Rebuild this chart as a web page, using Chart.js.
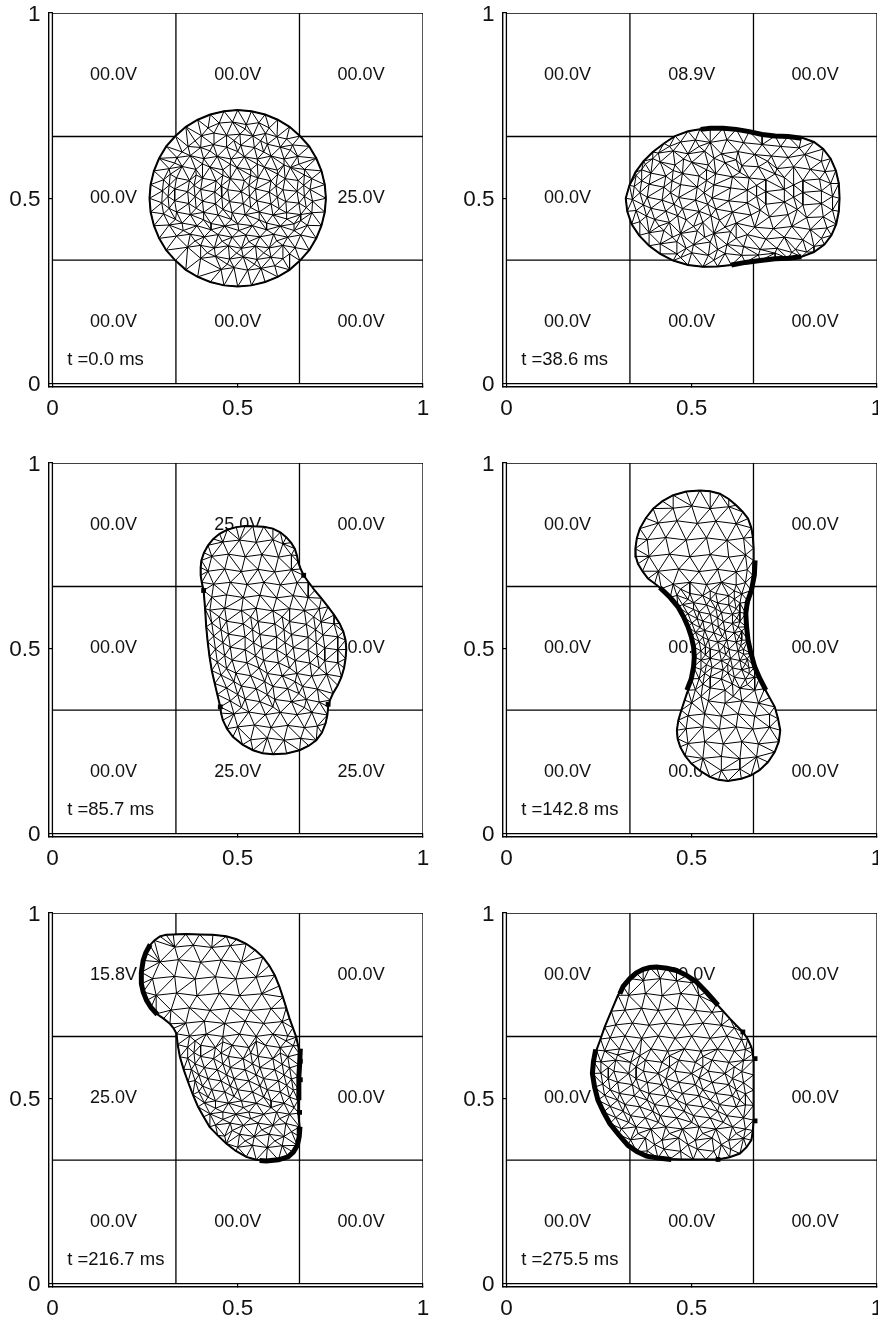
<!DOCTYPE html>
<html>
<head>
    <title>Droplet on electrode grid</title>
    <style>
        html, body { margin: 0; padding: 0; background: #fff; overflow: hidden; }
        body { width: 878px; height: 1321px; position: relative; }
        canvas { position: absolute; }
    </style>
    <script src="https://cdn.jsdelivr.net/npm/chart.js"></script>
</head>
<body>
<script>
// values, mesh nodes are estimates and not exact
const tickValues = [0, 0.5, 1];
const gridCuts = [0.3333, 0.6667];
const cellX = [0.165, 0.5, 0.833];
const cellY = [0.833, 0.5, 0.165];
const timeLabels = ['t =0.0 ms', 't =38.6 ms', 't =85.7 ms', 't =142.8 ms', 't =216.7 ms', 't =275.5 ms'];

const volts1 = ['00.0V','00.0V','00.0V','00.0V','00.0V','25.0V','00.0V','00.0V','00.0V'];
const volts2 = ['00.0V','08.9V','00.0V','00.0V','00.0V','00.0V','00.0V','00.0V','00.0V'];
const volts3 = ['00.0V','25.0V','00.0V','00.0V','00.0V','00.0V','00.0V','25.0V','25.0V'];
const volts4 = ['00.0V','00.0V','00.0V','00.0V','00.0V','00.0V','00.0V','00.0V','00.0V'];
const volts5 = ['15.8V','00.0V','00.0V','25.0V','00.0V','00.0V','00.0V','00.0V','00.0V'];
const volts6 = ['00.0V','00.0V','00.0V','00.0V','00.0V','00.0V','00.0V','00.0V','00.0V'];

const outline1 = [[.738,.5],[.735,.537],[.726,.574],[.712,.608],[.693,.64],[.668,.668],[.64,.693],[.608,.712],[.574,.726],[.537,.735],[.5,.738],[.463,.735],[.426,.726],[.392,.712],[.36,.693],[.332,.668],[.307,.64],[.288,.608],[.274,.574],[.265,.537],[.262,.5],[.265,.463],[.274,.426],[.288,.392],[.307,.36],[.332,.332],[.36,.307],[.392,.288],[.426,.274],[.463,.265],[.5,.262],[.537,.265],[.574,.274],[.608,.288],[.64,.307],[.668,.332],[.693,.36],[.712,.392],[.726,.426],[.735,.463]];
const outline2 = [[.899,.5],[.897,.54],[.889,.575],[.875,.607],[.855,.633],[.83,.652],[.796,.664],[.76,.667],[.725,.668],[.69,.672],[.655,.68],[.62,.686],[.585,.689],[.55,.689],[.522,.686],[.49,.681],[.455,.668],[.425,.648],[.395,.625],[.37,.6],[.348,.57],[.332,.535],[.322,.5],[.326,.465],[.338,.43],[.358,.4],[.385,.372],[.415,.35],[.45,.332],[.49,.32],[.53,.315],[.57,.316],[.607,.32],[.645,.327],[.685,.332],[.725,.337],[.76,.338],[.796,.342],[.83,.355],[.858,.375],[.877,.4],[.89,.43],[.897,.465]];
const outline3 = [[.541,.829],[.57,.828],[.595,.823],[.615,.813],[.631,.8],[.644,.785],[.654,.769],[.66,.75],[.663,.733],[.67,.714],[.678,.697],[.692,.677],[.708,.656],[.726,.635],[.744,.612],[.76,.59],[.775,.567],[.785,.545],[.791,.522],[.793,.497],[.791,.472],[.787,.447],[.78,.423],[.77,.4],[.757,.378],[.749,.36],[.744,.342],[.742,.32],[.737,.297],[.727,.272],[.712,.252],[.692,.237],[.667,.225],[.632,.216],[.595,.214],[.567,.217],[.541,.225],[.513,.24],[.487,.261],[.471,.283],[.46,.306],[.455,.325],[.453,.342],[.445,.375],[.438,.405],[.43,.44],[.424,.477],[.419,.517],[.415,.558],[.412,.607],[.408,.656],[.403,.678],[.4,.697],[.4,.718],[.402,.737],[.409,.758],[.42,.778],[.434,.795],[.451,.809],[.472,.82],[.496,.827],[.52,.83]];
const outline4 = [[.522,.926],[.55,.924],[.576,.917],[.6,.903],[.62,.886],[.638,.868],[.652,.85],[.661,.825],[.665,.8],[.667,.77],[.667,.737],[.665,.697],[.661,.656],[.654,.625],[.646,.594],[.648,.558],[.652,.522],[.66,.486],[.67,.45],[.683,.42],[.697,.391],[.71,.367],[.724,.342],[.733,.31],[.739,.279],[.735,.248],[.724,.22],[.706,.193],[.683,.171],[.66,.157],[.634,.148],[.598,.142],[.572,.145],[.549,.153],[.523,.169],[.499,.189],[.482,.21],[.469,.234],[.462,.256],[.46,.279],[.464,.306],[.472,.333],[.481,.36],[.49,.387],[.499,.418],[.505,.45],[.507,.477],[.505,.504],[.499,.531],[.49,.558],[.478,.585],[.463,.612],[.442,.637],[.418,.661],[.4,.675],[.382,.688],[.367,.708],[.355,.728],[.349,.748],[.348,.769],[.352,.797],[.36,.823],[.376,.851],[.396,.877],[.421,.897],[.45,.913],[.485,.923]];
const outline5 = [[.326,.942],[.36,.943],[.397,.942],[.433,.941],[.469,.937],[.497,.929],[.523,.917],[.547,.9],[.568,.881],[.585,.858],[.6,.832],[.612,.803],[.622,.773],[.631,.744],[.64,.715],[.649,.69],[.658,.665],[.663,.642],[.667,.62],[.665,.59],[.663,.558],[.663,.526],[.663,.495],[.665,.46],[.667,.423],[.666,.397],[.661,.373],[.65,.355],[.636,.342],[.61,.334],[.577,.331],[.55,.334],[.523,.342],[.495,.358],[.469,.378],[.446,.4],[.424,.423],[.408,.45],[.393,.477],[.379,.51],[.366,.544],[.354,.578],[.344,.612],[.338,.645],[.335,.674],[.327,.689],[.317,.701],[.3,.715],[.281,.728],[.266,.745],[.254,.764],[.245,.787],[.24,.809],[.24,.84],[.245,.872],[.252,.893],[.263,.913],[.275,.926],[.29,.937],[.307,.941]];
const outline6 = [[.405,.854],[.433,.851],[.459,.845],[.487,.831],[.513,.814],[.54,.786],[.567,.755],[.585,.735],[.603,.715],[.62,.697],[.638,.679],[.651,.66],[.661,.638],[.665,.62],[.667,.603],[.667,.563],[.667,.522],[.667,.481],[.667,.441],[.665,.413],[.661,.387],[.648,.368],[.63,.351],[.602,.341],[.571,.335],[.538,.335],[.504,.335],[.472,.335],[.441,.336],[.409,.339],[.378,.344],[.352,.356],[.328,.373],[.303,.402],[.279,.432],[.262,.463],[.247,.495],[.238,.53],[.232,.567],[.235,.6],[.243,.63],[.254,.66],[.265,.692],[.283,.735],[.301,.778],[.315,.802],[.333,.823],[.35,.838],[.369,.848],[.387,.853]];

const mesh1 = [[.45,.703],[.486,.706],[.523,.699],[.557,.704],[.402,.669],[.436,.676],[.47,.67],[.506,.673],[.541,.668],[.575,.675],[.606,.666],[.366,.64],[.4,.637],[.434,.645],[.47,.638],[.508,.643],[.545,.637],[.58,.646],[.615,.638],[.648,.644],[.336,.61],[.372,.615],[.408,.607],[.445,.613],[.482,.606],[.518,.612],[.553,.606],[.59,.614],[.625,.606],[.662,.613],[.315,.58],[.35,.586],[.387,.578],[.425,.584],[.46,.577],[.498,.583],[.535,.577],[.572,.584],[.607,.576],[.642,.583],[.68,.578],[.3,.55],[.335,.555],[.37,.548],[.405,.554],[.442,.547],[.48,.553],[.518,.548],[.555,.555],[.59,.547],[.628,.553],[.663,.548],[.7,.553],[.297,.52],[.33,.525],[.365,.518],[.4,.524],[.438,.517],[.473,.523],[.51,.518],[.548,.525],[.585,.517],[.622,.523],[.66,.519],[.695,.524],[.295,.488],[.33,.493],[.368,.486],[.405,.492],[.44,.485],[.478,.491],[.515,.486],[.552,.493],[.59,.485],[.63,.491],[.665,.487],[.702,.492],[.3,.458],[.335,.463],[.372,.456],[.408,.462],[.447,.455],[.485,.461],[.52,.456],[.558,.463],[.595,.455],[.632,.461],[.67,.456],[.7,.461],[.315,.428],[.35,.433],[.39,.426],[.428,.432],[.465,.425],[.5,.431],[.54,.426],[.578,.433],[.615,.425],[.652,.431],[.688,.427],[.335,.398],[.372,.403],[.41,.396],[.447,.402],[.485,.395],[.522,.401],[.56,.396],[.597,.403],[.635,.395],[.67,.401],[.365,.368],[.4,.373],[.437,.366],[.475,.372],[.51,.365],[.548,.371],[.585,.366],[.622,.373],[.655,.367],[.4,.338],[.44,.343],[.478,.336],[.515,.342],[.552,.335],[.59,.341],[.622,.337],[.455,.308],[.49,.313],[.527,.306],[.563,.311]];
const mesh2 = [[.47,.652],[.51,.657],[.55,.651],[.595,.658],[.64,.65],[.69,.645],[.74,.64],[.79,.636],[.41,.622],[.45,.628],[.49,.62],[.535,.627],[.58,.62],[.625,.626],[.67,.618],[.715,.614],[.76,.61],[.805,.618],[.85,.6],[.375,.592],[.415,.598],[.455,.59],[.5,.597],[.545,.59],[.59,.596],[.635,.588],[.68,.585],[.73,.58],[.775,.585],[.82,.578],[.86,.572],[.35,.562],[.39,.568],[.43,.56],[.475,.567],[.52,.56],[.565,.566],[.61,.558],[.655,.555],[.7,.55],[.75,.556],[.8,.548],[.845,.552],[.875,.54],[.345,.532],[.385,.538],[.425,.53],[.47,.537],[.515,.53],[.56,.536],[.605,.528],[.65,.522],[.7,.518],[.75,.524],[.8,.516],[.85,.52],[.88,.505],[.34,.497],[.38,.503],[.42,.495],[.465,.502],[.51,.495],[.555,.501],[.6,.493],[.65,.488],[.7,.484],[.75,.49],[.8,.482],[.85,.486],[.35,.467],[.39,.473],[.43,.465],[.475,.472],[.52,.465],[.565,.471],[.61,.463],[.66,.455],[.71,.45],[.76,.456],[.81,.448],[.855,.45],[.88,.468],[.36,.437],[.4,.443],[.44,.435],[.485,.442],[.53,.435],[.575,.441],[.62,.433],[.67,.422],[.72,.418],[.77,.424],[.82,.416],[.865,.42],[.385,.407],[.425,.413],[.47,.405],[.515,.412],[.56,.405],[.605,.41],[.65,.402],[.7,.39],[.75,.395],[.8,.388],[.85,.392],[.415,.377],[.46,.383],[.505,.375],[.55,.382],[.595,.375],[.64,.37],[.685,.362],[.73,.365],[.78,.362],[.83,.37],[.46,.35],[.5,.353],[.545,.346],[.59,.351],[.635,.346],[.68,.347],[.725,.352],[.77,.354],[.81,.355]];
const mesh3 = [[.46,.787],[.505,.792],[.55,.786],[.595,.793],[.622,.782],[.43,.748],[.475,.754],[.52,.747],[.565,.753],[.61,.746],[.645,.752],[.42,.708],[.465,.714],[.51,.707],[.555,.713],[.6,.706],[.645,.712],[.435,.673],[.48,.678],[.525,.672],[.57,.678],[.615,.671],[.66,.677],[.43,.638],[.47,.644],[.515,.637],[.56,.643],[.605,.636],[.65,.642],[.69,.637],[.425,.603],[.465,.608],[.51,.602],[.55,.608],[.595,.601],[.64,.607],[.68,.602],[.72,.607],[.43,.568],[.47,.573],[.515,.566],[.555,.572],[.6,.566],[.64,.572],[.685,.565],[.725,.571],[.76,.566],[.435,.533],[.475,.538],[.52,.531],[.56,.537],[.605,.531],[.645,.537],[.69,.53],[.73,.536],[.77,.531],[.44,.498],[.48,.503],[.52,.496],[.565,.502],[.605,.496],[.65,.502],[.69,.495],[.735,.501],[.77,.496],[.445,.463],[.485,.468],[.525,.461],[.57,.467],[.61,.461],[.655,.467],[.695,.46],[.735,.466],[.77,.461],[.455,.428],[.495,.433],[.535,.426],[.58,.432],[.62,.426],[.66,.432],[.7,.425],[.74,.43],[.47,.393],[.51,.398],[.55,.391],[.595,.397],[.635,.391],[.675,.397],[.715,.39],[.48,.358],[.52,.363],[.56,.356],[.6,.362],[.645,.356],[.685,.362],[.72,.355],[.49,.323],[.53,.328],[.575,.321],[.615,.327],[.66,.321],[.7,.327],[.5,.288],[.545,.293],[.59,.286],[.635,.292],[.68,.286],[.715,.29],[.535,.253],[.58,.258],[.625,.252],[.67,.257]];
const mesh4 = [[.45,.878],[.5,.884],[.55,.877],[.6,.882],[.41,.838],[.46,.844],[.515,.837],[.565,.843],[.62,.836],[.38,.793],[.43,.799],[.485,.792],[.54,.798],[.595,.791],[.64,.797],[.385,.748],[.44,.754],[.495,.747],[.55,.753],[.6,.746],[.645,.752],[.41,.708],[.465,.714],[.52,.707],[.57,.713],[.62,.706],[.65,.712],[.45,.673],[.495,.678],[.54,.672],[.58,.678],[.62,.671],[.645,.677],[.46,.643],[.495,.648],[.53,.642],[.565,.648],[.6,.642],[.635,.647],[.475,.618],[.505,.623],[.54,.617],[.57,.622],[.6,.617],[.63,.622],[.49,.593],[.52,.598],[.55,.592],[.58,.597],[.61,.592],[.63,.597],[.5,.568],[.53,.573],[.555,.567],[.585,.572],[.61,.567],[.63,.572],[.51,.543],[.535,.548],[.56,.542],[.59,.547],[.615,.542],[.635,.547],[.52,.518],[.545,.523],[.57,.517],[.595,.522],[.62,.517],[.635,.522],[.525,.493],[.55,.498],[.575,.492],[.6,.497],[.625,.492],[.64,.497],[.525,.468],[.55,.473],[.58,.467],[.605,.472],[.63,.467],[.65,.472],[.525,.443],[.555,.448],[.585,.442],[.61,.447],[.635,.442],[.655,.447],[.52,.418],[.55,.423],[.58,.417],[.615,.422],[.645,.417],[.67,.422],[.51,.388],[.55,.393],[.59,.387],[.63,.392],[.67,.387],[.5,.353],[.545,.358],[.59,.352],[.635,.358],[.68,.352],[.49,.318],[.535,.323],[.58,.317],[.625,.323],[.67,.317],[.71,.322],[.485,.283],[.53,.288],[.575,.282],[.62,.288],[.665,.282],[.71,.287],[.49,.243],[.535,.248],[.585,.242],[.635,.248],[.68,.242],[.53,.203],[.58,.208],[.63,.202],[.675,.207],[.58,.17],[.63,.174]];
const mesh5 = [[.33,.908],[.38,.913],[.43,.907],[.48,.912],[.29,.868],[.34,.874],[.4,.867],[.455,.873],[.51,.867],[.27,.823],[.33,.829],[.385,.822],[.44,.828],[.495,.822],[.55,.827],[.28,.778],[.335,.784],[.39,.777],[.45,.783],[.505,.777],[.565,.782],[.32,.738],[.37,.744],[.425,.737],[.48,.743],[.535,.737],[.59,.742],[.36,.703],[.41,.708],[.465,.702],[.52,.708],[.57,.702],[.62,.707],[.37,.668],[.415,.673],[.46,.667],[.505,.673],[.55,.667],[.595,.673],[.635,.668],[.365,.638],[.4,.643],[.44,.637],[.485,.643],[.53,.637],[.575,.643],[.615,.637],[.65,.642],[.365,.608],[.4,.613],[.435,.607],[.475,.613],[.515,.607],[.555,.613],[.595,.607],[.635,.612],[.375,.578],[.41,.583],[.445,.577],[.48,.583],[.52,.577],[.56,.583],[.6,.577],[.64,.582],[.385,.548],[.42,.553],[.455,.547],[.49,.553],[.53,.547],[.57,.553],[.61,.547],[.645,.552],[.395,.518],[.43,.523],[.465,.517],[.5,.523],[.54,.517],[.58,.523],[.615,.517],[.65,.522],[.41,.488],[.44,.493],[.475,.487],[.51,.493],[.55,.487],[.59,.493],[.625,.487],[.425,.458],[.46,.463],[.495,.457],[.53,.463],[.57,.457],[.605,.463],[.64,.457],[.44,.428],[.48,.433],[.515,.427],[.555,.433],[.595,.427],[.63,.432],[.465,.398],[.505,.403],[.545,.397],[.585,.403],[.625,.397],[.5,.368],[.54,.373],[.58,.367],[.62,.372]];
const mesh6 = [[.37,.818],[.415,.823],[.46,.817],[.5,.812],[.33,.778],[.375,.783],[.42,.777],[.47,.783],[.52,.777],[.32,.738],[.365,.743],[.41,.737],[.46,.743],[.51,.737],[.555,.732],[.295,.698],[.34,.703],[.385,.697],[.43,.703],[.48,.697],[.53,.703],[.58,.697],[.615,.69],[.28,.663],[.32,.668],[.365,.662],[.41,.668],[.455,.662],[.5,.668],[.55,.662],[.595,.668],[.635,.658],[.265,.628],[.305,.633],[.345,.627],[.39,.633],[.435,.627],[.48,.633],[.525,.627],[.57,.633],[.615,.627],[.645,.632],[.255,.598],[.295,.603],[.335,.597],[.375,.603],[.42,.597],[.465,.603],[.51,.597],[.555,.603],[.6,.597],[.64,.602],[.255,.568],[.29,.573],[.33,.567],[.37,.573],[.41,.567],[.455,.573],[.5,.567],[.545,.573],[.59,.567],[.635,.572],[.26,.538],[.3,.543],[.34,.537],[.38,.543],[.42,.537],[.465,.543],[.51,.537],[.555,.543],[.6,.537],[.64,.542],[.265,.508],[.305,.513],[.345,.507],[.385,.513],[.43,.507],[.475,.513],[.52,.507],[.565,.513],[.61,.507],[.645,.512],[.28,.478],[.32,.483],[.36,.477],[.4,.483],[.44,.477],[.485,.483],[.53,.477],[.575,.483],[.62,.477],[.645,.482],[.295,.448],[.335,.453],[.375,.447],[.415,.453],[.46,.447],[.505,.453],[.55,.447],[.595,.453],[.64,.447],[.31,.418],[.35,.423],[.39,.417],[.43,.423],[.475,.417],[.52,.423],[.565,.417],[.61,.423],[.645,.417],[.335,.388],[.375,.393],[.42,.387],[.465,.393],[.51,.387],[.555,.393],[.6,.387],[.64,.392],[.38,.358],[.425,.363],[.47,.357],[.515,.363],[.56,.357],[.605,.362]];

// more nodes where the mesh is tighter
const extra1 = [[.42,.69],[.52,.687],[.585,.69],[.385,.655],[.49,.656],[.562,.655],[.632,.66],[.35,.625],[.425,.628],[.5,.626],[.57,.625],[.642,.63],[.33,.595],[.405,.593],[.48,.592],[.553,.592],[.625,.59],[.665,.592],[.318,.565],[.388,.563],[.46,.562],[.535,.562],[.608,.565],[.68,.563],[.315,.535],[.382,.535],[.455,.533],[.53,.535],[.603,.533],[.678,.535],[.312,.505],[.385,.505],[.457,.503],[.532,.505],[.607,.503],[.68,.505],[.315,.473],[.388,.473],[.46,.47],[.535,.475],[.612,.472],[.685,.475],[.332,.443],[.408,.442],[.483,.443],[.558,.442],[.633,.444],[.67,.44],[.353,.413],[.428,.415],[.503,.413],[.578,.415],[.652,.413],[.385,.385],[.458,.384],[.53,.383],[.605,.385],[.418,.353],[.497,.352],[.57,.353],[.64,.35],[.472,.322],[.545,.322],[.6,.318]];
const extra2 = [[.44,.64],[.52,.64],[.395,.607],[.478,.606],[.56,.608],[.365,.577],[.45,.575],[.54,.577],[.365,.547],[.447,.547],[.54,.548],[.36,.515],[.443,.515],[.533,.515],[.37,.482],[.452,.484],[.543,.484],[.378,.452],[.462,.453],[.552,.453],[.412,.425],[.505,.424],[.59,.422],[.448,.395],[.535,.395],[.62,.392],[.485,.365],[.57,.362],[.47,.34],[.56,.333],[.62,.604],[.705,.6],[.63,.57],[.725,.566],[.675,.535],[.775,.536],[.675,.505],[.775,.503],[.685,.468],[.785,.47]];
const extra3 = [[.45,.585],[.535,.585],[.62,.585],[.705,.585],[.455,.55],[.54,.55],[.625,.55],[.71,.55],[.46,.515],[.543,.515],[.628,.515],[.712,.515],[.465,.48],[.548,.48],[.632,.48],[.715,.48],[.47,.445],[.558,.447],[.64,.447],[.72,.447],[.49,.41],[.573,.41],[.655,.41],[.5,.375],[.58,.375],[.665,.378],[.51,.34],[.595,.342],[.68,.34]];
const extra4 = [[.47,.66],[.55,.655],[.615,.655],[.49,.632],[.55,.632],[.615,.633],[.505,.605],[.565,.607],[.62,.607],[.515,.58],[.57,.582],[.622,.582],[.522,.556],[.572,.557],[.625,.557],[.53,.53],[.583,.532],[.628,.532],[.537,.505],[.587,.507],[.632,.507],[.537,.482],[.592,.483],[.64,.484],[.54,.456],[.597,.457],[.645,.458],[.535,.432],[.598,.433],[.655,.432],[.53,.403],[.61,.404],[.65,.402],[.525,.37],[.612,.37]];
const extra5 = [[.385,.655],[.46,.652],[.55,.654],[.63,.655],[.382,.623],[.455,.622],[.535,.622],[.615,.622],[.385,.593],[.46,.593],[.54,.593],[.62,.592],[.395,.563],[.47,.563],[.55,.563],[.625,.563],[.405,.533],[.48,.533],[.56,.533],[.632,.535],[.42,.503],[.49,.505],[.57,.503],[.64,.503],[.44,.473],[.515,.475],[.59,.475],[.652,.475],[.46,.443],[.535,.445],[.613,.445],[.485,.413],[.565,.415],[.645,.41],[.52,.385],[.6,.385]];
const extra6 = [[.3,.617],[.36,.615],[.44,.615],[.53,.613],[.275,.583],[.35,.585],[.44,.585],[.53,.585],[.615,.585],[.275,.553],[.35,.553],[.43,.553],[.52,.555],[.61,.553],[.28,.523],[.36,.523],[.44,.523],[.53,.523],[.62,.523],[.3,.495],[.38,.495],[.46,.495],[.55,.495],[.63,.495],[.315,.465],[.395,.465],[.48,.465],[.57,.465],[.33,.435],[.41,.435],[.5,.435],[.585,.435],[.355,.405],[.44,.405],[.53,.405],[.62,.405],[.4,.375],[.49,.375],[.58,.375]];

// thick pieces of outline where the droplet touches a live electrode
const thick1 = [];
const thick2 = [[[.524,.686],[.55,.689],[.585,.689],[.62,.686],[.655,.68],[.69,.672],[.725,.668],[.76,.667],[.796,.662]],[[.607,.32],[.645,.327],[.685,.332],[.725,.337],[.76,.338],[.796,.342]]];
const thick3 = [];
const thick4 = [[[.414,.664],[.442,.637],[.463,.612],[.478,.585],[.49,.558],[.499,.531],[.505,.504],[.507,.477],[.505,.45],[.499,.418],[.487,.387]],[[.671,.737],[.669,.697],[.661,.656],[.65,.625],[.646,.594],[.648,.558],[.652,.522],[.66,.486],[.67,.45],[.683,.42],[.7,.387]]];
const thick5 = [[[.264,.915],[.252,.893],[.245,.872],[.24,.84],[.24,.809],[.245,.787],[.254,.764],[.266,.745],[.283,.726]],[[.669,.634],[.667,.59],[.665,.558],[.665,.526],[.665,.495]],[[.668,.423],[.666,.397],[.661,.373],[.65,.355],[.636,.342],[.61,.334],[.577,.331],[.559,.332]]];
const thick6 = [[[.306,.782],[.315,.802],[.333,.823],[.35,.838],[.369,.848],[.387,.853],[.405,.854],[.433,.851],[.459,.845],[.487,.831],[.513,.814],[.54,.786],[.571,.751]],[[.241,.632],[.235,.6],[.232,.567],[.238,.53],[.247,.495],[.262,.463],[.279,.432],[.303,.402],[.328,.373],[.352,.356],[.378,.344],[.409,.339],[.445,.335]]];

// small square end marks on the electrodes
const dots1 = [];
const dots2 = [];
const dots3 = [[.408,.656],[.678,.697],[.453,.342],[.744,.349]];
const dots4 = [];
const dots5 = [[.667,.462],[.669,.6],[.669,.55]];
const dots6 = [[.638,.679],[.671,.607],[.671,.439],[.571,.335]];

const panels = [
    {outline: outline1, mesh: mesh1.concat(extra1), thick: thick1, dots: dots1, volts: volts1},
    {outline: outline2, mesh: mesh2.concat(extra2), thick: thick2, dots: dots2, volts: volts2},
    {outline: outline3, mesh: mesh3.concat(extra3), thick: thick3, dots: dots3, volts: volts3},
    {outline: outline4, mesh: mesh4.concat(extra4), thick: thick4, dots: dots4, volts: volts4},
    {outline: outline5, mesh: mesh5.concat(extra5), thick: thick5, dots: dots5, volts: volts5},
    {outline: outline6, mesh: mesh6.concat(extra6), thick: thick6, dots: dots6, volts: volts6}
];

const BREAK = {x: NaN, y: NaN};
const axisGap = 0.0092;   // axes sit a little outside the box

function toPoints(list) {
    return list.map(p => ({x: p[0], y: p[1]}));
}

function joinPieces(pieces) {
    const out = [];
    pieces.forEach(piece => {
        out.push(...toPoints(piece), BREAK);
    });
    return out;
}

function frameLines() {
    const pieces = [[[0, 0], [1, 0], [1, 1], [0, 1], [0, 0]]];
    gridCuts.forEach(c => {
        pieces.push([[c, 0], [c, 1]]);
        pieces.push([[0, c], [1, c]]);
    });
    return joinPieces(pieces);
}

function circumHit(a, b, c, p) {
    const d = 2 * (a[0] * (b[1] - c[1]) + b[0] * (c[1] - a[1]) + c[0] * (a[1] - b[1]));
    if (Math.abs(d) < 1e-12) return false;
    const a2 = a[0] * a[0] + a[1] * a[1], b2 = b[0] * b[0] + b[1] * b[1], c2 = c[0] * c[0] + c[1] * c[1];
    const ux = (a2 * (b[1] - c[1]) + b2 * (c[1] - a[1]) + c2 * (a[1] - b[1])) / d;
    const uy = (a2 * (c[0] - b[0]) + b2 * (a[0] - c[0]) + c2 * (b[0] - a[0])) / d;
    const r2 = (a[0] - ux) ** 2 + (a[1] - uy) ** 2;
    return (p[0] - ux) ** 2 + (p[1] - uy) ** 2 < r2;
}

function triangulate(pts) {
    const n = pts.length;
    const all = pts.concat([[-20, -20], [20, -20], [0, 20]]);
    let tris = [[n, n + 1, n + 2]];
    for (let i = 0; i < n; i++) {
        const keep = [], edges = {};
        tris.forEach(t => {
            if (circumHit(all[t[0]], all[t[1]], all[t[2]], all[i])) {
                [[t[0], t[1]], [t[1], t[2]], [t[2], t[0]]].forEach(e => {
                    const k = Math.min(e[0], e[1]) + '_' + Math.max(e[0], e[1]);
                    edges[k] = edges[k] ? null : e;
                });
            } else {
                keep.push(t);
            }
        });
        Object.values(edges).forEach(e => {
            if (e) keep.push([e[0], e[1], i]);
        });
        tris = keep;
    }
    return tris.filter(t => t[0] < n && t[1] < n && t[2] < n);
}

function insideShape(poly, x, y) {
    let hit = false;
    for (let i = 0, j = poly.length - 1; i < poly.length; j = i++) {
        const a = poly[i], b = poly[j];
        if ((a[1] > y) !== (b[1] > y) && x < (b[0] - a[0]) * (y - a[1]) / (b[1] - a[1]) + a[0]) hit = !hit;
    }
    return hit;
}

function meshLines(outline, nodes) {
    const pts = outline.concat(nodes);
    const seen = {}, pieces = [];
    triangulate(pts).forEach(t => {
        const cx = (pts[t[0]][0] + pts[t[1]][0] + pts[t[2]][0]) / 3;
        const cy = (pts[t[0]][1] + pts[t[1]][1] + pts[t[2]][1]) / 3;
        if (!insideShape(outline, cx, cy)) return;
        [[t[0], t[1]], [t[1], t[2]], [t[2], t[0]]].forEach(e => {
            const k = Math.min(e[0], e[1]) + '_' + Math.max(e[0], e[1]);
            if (seen[k]) return;
            seen[k] = true;
            pieces.push([pts[e[0]], pts[e[1]]]);
        });
    });
    return joinPieces(pieces);
}

const panelText = {
    id: 'panelText',
    beforeDatasetsDraw(chart, args, opts) {
        const ctx = chart.ctx, xs = chart.scales.x, ys = chart.scales.y;
        ctx.save();
        ctx.fillStyle = '#111';
        ctx.font = '18px "Liberation Sans"';
        ctx.textAlign = 'center';
        ctx.textBaseline = 'middle';
        opts.volts.forEach((v, i) => {
            ctx.fillText(v, xs.getPixelForValue(cellX[i % 3]), ys.getPixelForValue(cellY[Math.floor(i / 3)]));
        });
        ctx.font = '18.5px "Liberation Sans"';
        ctx.textAlign = 'left';
        ctx.fillText(opts.time, xs.getPixelForValue(0.04), ys.getPixelForValue(0.065));
        ctx.restore();
    }
};

function axisOptions(isX) {
    return {
        type: 'linear',
        min: -axisGap,
        max: 1,
        afterBuildTicks(s) { s.ticks = tickValues.map(v => ({value: v})); },
        afterFit(s) {
            if (isX) { s.height = 34; s.paddingLeft = 0; s.paddingRight = 0; }
            else { s.width = 49; s.paddingTop = 0; s.paddingBottom = 0; }
        },
        grid: {display: true, drawOnChartArea: false, drawTicks: true, tickLength: -4, color: '#000', lineWidth: 1.2},
        border: {display: true, color: '#000', width: 1.4},
        ticks: {
            autoSkip: false,
            maxRotation: 0,
            padding: isX ? 12 : 12.5,
            labelOffset: isX ? 0 : 1.5,
            color: '#111',
            font: {size: 22.5},
            callback: v => String(v)
        }
    };
}

Chart.defaults.font.family = '"Liberation Sans", Arial, sans-serif';

panels.forEach((panel, i) => {
    const col = i % 2, row = Math.floor(i / 2);
    const canvas = document.createElement('canvas');
    canvas.width = 438;
    canvas.height = 421;
    canvas.style.left = (col === 0 ? 0 : 454) + 'px';
    canvas.style.top = (row * 450) + 'px';
    document.body.appendChild(canvas);

    const shape = toPoints(panel.outline.concat([panel.outline[0]]));
    new Chart(canvas.getContext('2d'), {
        type: 'scatter',
        data: {
            datasets: [
                {data: frameLines(), showLine: true, pointRadius: 0, borderColor: '#000', borderWidth: 1.3, order: 6},
                {data: shape, showLine: true, pointRadius: 0, borderWidth: 0, borderColor: '#fff', backgroundColor: '#fff', fill: 'shape', order: 5},
                {data: meshLines(panel.outline, panel.mesh), showLine: true, pointRadius: 0, borderColor: '#000', borderWidth: 1, order: 4},
                {data: shape, showLine: true, pointRadius: 0, borderColor: '#000', borderWidth: 2, order: 3},
                {data: joinPieces(panel.thick), showLine: true, pointRadius: 0, borderColor: '#000', borderWidth: 5, order: 2},
                {data: toPoints(panel.dots), showLine: false, pointStyle: 'rect', pointRadius: 3.4, backgroundColor: '#000', borderWidth: 0, order: 1}
            ]
        },
        options: {
            responsive: false,
            animation: false,
            devicePixelRatio: 1,
            layout: {padding: {top: 13, right: 15, left: 0, bottom: 0}},
            plugins: {
                legend: {display: false},
                tooltip: {enabled: false},
                panelText: {volts: panel.volts, time: timeLabels[i]}
            },
            scales: {x: axisOptions(true), y: axisOptions(false)}
        },
        plugins: [panelText]
    });
});
</script>
</body>
</html>
